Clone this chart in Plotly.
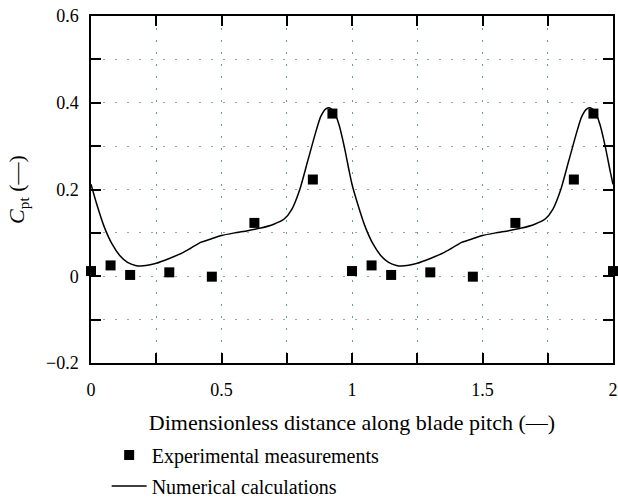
import plotly.graph_objects as go

# Experimental measurements
exp_x = [0.0, 0.075, 0.15, 0.30, 0.463, 0.626, 0.85, 0.925,
         1.0, 1.075, 1.15, 1.30, 1.463, 1.626, 1.85, 1.925, 2.0]
exp_y = [0.012, 0.025, 0.003, 0.009, -0.001, 0.123, 0.223, 0.375,
         0.012, 0.025, 0.003, 0.009, -0.001, 0.123, 0.223, 0.375, 0.012]

# Numerical calculations
num_x = [0.00, 0.02, 0.05, 0.08, 0.11, 0.14, 0.17, 0.20, 0.25, 0.30, 0.35, 0.38,
         0.42, 0.46, 0.50, 0.55, 0.60, 0.65, 0.70, 0.74, 0.77, 0.80, 0.83, 0.86,
         0.88, 0.90, 0.915, 0.93, 0.95, 0.97, 0.99,
         1.00, 1.02, 1.05, 1.08, 1.11, 1.14, 1.17, 1.20, 1.25, 1.30, 1.35, 1.38,
         1.42, 1.46, 1.50, 1.55, 1.60, 1.65, 1.70, 1.74, 1.77, 1.80, 1.83, 1.86,
         1.88, 1.90, 1.915, 1.93, 1.95, 1.97, 1.99, 2.00]
num_y = [0.212, 0.170, 0.115, 0.075, 0.048, 0.032, 0.025, 0.024, 0.030, 0.041, 0.054, 0.064,
         0.078, 0.086, 0.094, 0.100, 0.105, 0.111, 0.120, 0.132, 0.155, 0.200, 0.265, 0.330,
         0.368, 0.386, 0.388, 0.380, 0.350, 0.300, 0.240,
         0.212, 0.170, 0.115, 0.075, 0.048, 0.032, 0.025, 0.024, 0.030, 0.041, 0.054, 0.064,
         0.078, 0.086, 0.094, 0.100, 0.105, 0.111, 0.120, 0.132, 0.155, 0.200, 0.265, 0.330,
         0.368, 0.386, 0.388, 0.380, 0.350, 0.300, 0.240, 0.212]

x_tickvals = [0, 0.5, 1, 1.5, 2]
x_ticktext = ["0", "0.5", "1", "1.5", "2"]
x_minor = [0.25, 0.75, 1.25, 1.75]
y_tickvals = [-0.2, 0, 0.2, 0.4, 0.6]
y_ticktext = ["\u22120.2", "0", "0.2", "0.4", "0.6"]
y_minor = [-0.1, 0.1, 0.3, 0.5]

FONT = "Liberation Serif"
VGRID = "#5f9f9f"
HGRID = "#a0a0a0"
DASH = "2px,10px"

fig = go.Figure()
fig.add_trace(go.Scatter(
    x=exp_x, y=exp_y, mode="markers", name="Experimental measurements",
    marker=dict(symbol="square", size=10, color="black"), cliponaxis=False,
    legend="legend"))
fig.add_trace(go.Scatter(
    x=num_x, y=num_y, mode="lines", name="Numerical calculations",
    line=dict(color="black", width=1.5, shape="spline", smoothing=0.6),
    legend="legend2"))

leg_common = dict(xanchor="left", yanchor="middle",
                  bgcolor="rgba(0,0,0,0)", font=dict(size=20), itemwidth=35)

fig.update_layout(
    width=618, height=500,
    margin=dict(l=91, r=5, t=16, b=137, autoexpand=False),
    paper_bgcolor="white", plot_bgcolor="white",
    font=dict(family=FONT, size=18, color="black"),
    showlegend=True,
    legend=dict(x=0.03, y=-0.265, **leg_common),
    legend2=dict(x=0.03, y=-0.3545, **leg_common),
    xaxis=dict(range=[0, 2], tickvals=x_tickvals, ticktext=x_ticktext,
               automargin=False,
               ticks="inside", ticklen=10, tickwidth=1.5, tickcolor="black",
               showline=True, linecolor="black", linewidth=1.5, mirror="ticks",
               showgrid=True, gridcolor=VGRID, griddash=DASH, gridwidth=1,
               minor=dict(tickvals=x_minor, ticks="inside", ticklen=10, tickwidth=1.5,
                          tickcolor="black", showgrid=True, gridcolor=VGRID,
                          griddash=DASH, gridwidth=1),
               zeroline=False, ticklabelstandoff=10,
               title=dict(text="Dimensionless distance along blade pitch (\u2014)")),
    yaxis=dict(range=[-0.2, 0.6], tickvals=y_tickvals, ticktext=y_ticktext,
               automargin=False,
               ticks="inside", ticklen=10, tickwidth=1.5, tickcolor="black",
               showline=True, linecolor="black", linewidth=1.5, mirror="ticks",
               showgrid=True, gridcolor=HGRID, griddash=DASH, gridwidth=1,
               minor=dict(tickvals=y_minor, ticks="inside", ticklen=10, tickwidth=1.5,
                          tickcolor="black", showgrid=True, gridcolor=HGRID,
                          griddash=DASH, gridwidth=1),
               zeroline=False, ticklabelstandoff=7,
               title=dict(text="<i>C</i><sub>pt</sub> (\u2014)")),
)

fig.write_html("out.html")
